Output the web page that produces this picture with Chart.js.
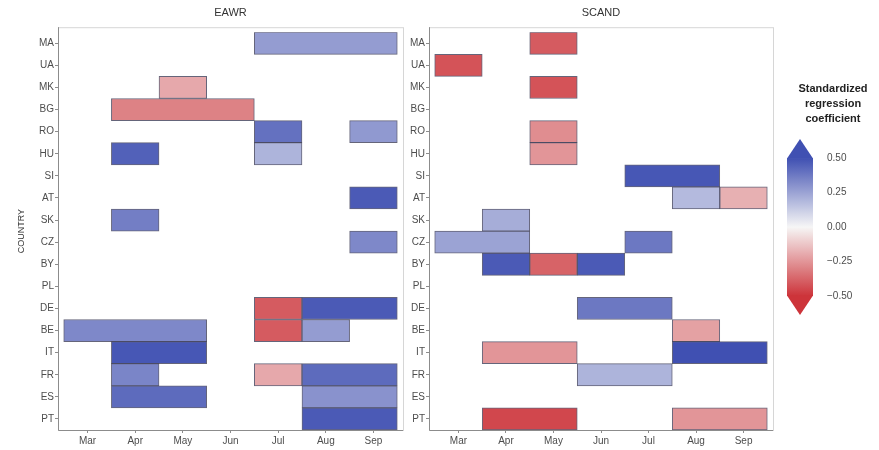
<!DOCTYPE html>
<html>
<head>
<meta charset="utf-8">
<script src="https://cdn.jsdelivr.net/npm/chart.js@4"></script>
<style>
  body { margin: 0; background: #fff; }
  #wrap { position: relative; width: 879px; height: 450px; }
  canvas { position: absolute; top: 0; }
</style>
</head>
<body>
<div id="wrap">
  <canvas id="grafico-eawr" width="406" height="450" style="left:0"></canvas>
  <canvas id="grafico-scand" width="374" height="450" style="left:405px"></canvas>
  <canvas id="grafico-escala" width="101" height="450" style="left:778px"></canvas>
</div>
<script>
// paises (de cima para baixo) e meses
const paises = ['MA', 'UA', 'MK', 'BG', 'RO', 'HU', 'SI', 'AT', 'SK', 'CZ', 'BY', 'PL', 'DE', 'BE', 'IT', 'FR', 'ES', 'PT'];
const meses = ['Mar', 'Apr', 'May', 'Jun', 'Jul', 'Aug', 'Sep'];
const numMeses = [3, 4, 5, 6, 7, 8, 9];
const ticksEscala = [-0.5, -0.25, 0, 0.25, 0.5];

// coeficientes EAWR, um array por mes, na ordem de paises
//             MA    UA    MK     BG    RO    HU    SI    AT    SK    CZ    BY    PL    DE     BE     IT    FR     ES    PT
const eawrMar = [null, null, null, null, null, null, null, null, null, null, null, null, null, 0.33, null, null, null, null];
const eawrApr = [null, null, null, -0.30, null, 0.45, null, null, 0.36, null, null, null, null, 0.33, 0.48, 0.34, 0.42, null];
const eawrMay = [null, null, -0.20, -0.30, null, null, null, null, null, null, null, null, null, 0.33, 0.48, null, 0.42, null];
const eawrJun = [null, null, null, -0.30, null, null, null, null, null, null, null, null, null, null, null, null, null, null];
const eawrJul = [0.27, null, null, null, 0.40, 0.20, null, null, null, null, null, null, -0.40, -0.40, null, -0.20, null, null];
const eawrAug = [0.27, null, null, null, null, null, null, null, null, null, null, null, 0.47, 0.27, null, 0.42, 0.30, 0.47];
const eawrSep = [0.27, null, null, null, 0.28, null, null, 0.47, null, 0.33, null, null, 0.47, null, null, 0.42, 0.30, 0.47];

// coeficientes SCAND
const scandMar = [null, -0.42, null, null, null, null, null, null, null, 0.25, null, null, null, null, null, null, null, null];
const scandApr = [null, null, null, null, null, null, null, null, 0.22, 0.25, 0.47, null, null, null, -0.25, null, null, -0.45];
const scandMay = [-0.40, null, -0.42, null, -0.27, -0.25, null, null, null, null, -0.38, null, null, null, -0.25, null, null, -0.45];
const scandJun = [null, null, null, null, null, null, null, null, null, null, 0.47, null, 0.38, null, null, 0.20, null, null];
const scandJul = [null, null, null, null, null, null, 0.48, null, null, 0.38, null, null, 0.38, null, null, 0.20, null, null];
const scandAug = [null, null, null, null, null, null, 0.48, 0.18, null, null, null, null, null, -0.22, 0.50, null, null, -0.25];
const scandSep = [null, null, null, null, null, null, null, -0.18, null, null, null, null, null, null, 0.50, null, null, -0.25];

Chart.defaults.font.family = "'Liberation Sans', Arial, sans-serif";
Chart.defaults.color = '#4d4d4d';

// cor divergente: vermelho (-0.5) -> branco (0) -> azul (0.5)
function corCoef(v) {
  let t = Math.max(-1, Math.min(1, v / 0.5));
  let branco = [246, 246, 246];
  let fim = t >= 0 ? [64, 80, 178] : [205, 52, 58];
  let a = Math.abs(t);
  let c = branco.map((b, i) => Math.round(b + (fim[i] - b) * a));
  return 'rgb(' + c.join(',') + ')';
}

// um dataset por mes: barra flutuante [mes-0.5, mes+0.5]
// meses seguidos com o mesmo valor viram uma barra so (comeca no primeiro mes)
function montaDatasets(colunas) {
  return colunas.map(function (valores, i) {
    let m = numMeses[i];
    return {
      data: valores.map(function (v, k) {
        if (v === null) return null;
        if (i > 0 && colunas[i - 1][k] === v) return null;
        let j = i;
        while (j < colunas.length - 1 && colunas[j + 1][k] === v) j++;
        return [m - 0.5, numMeses[j] + 0.5];
      }),
      backgroundColor: valores.map(v => (v === null ? 'transparent' : corCoef(v))),
      borderColor: 'rgba(35,35,65,0.7)',
      borderWidth: 1,
      borderSkipped: false,
      grouped: false,
      barPercentage: 1,
      categoryPercentage: 1
    };
  });
}

// moldura do painel: topo/direita claros, eixo esquerdo/baixo mais escuros
const moldura = {
  id: 'moldura',
  afterDraw(chart) {
    let a = chart.chartArea;
    let ctx = chart.ctx;
    let topo = a.top - 5;
    ctx.save();
    ctx.lineWidth = 1;
    ctx.strokeStyle = '#d6d6d6';
    ctx.strokeRect(a.left + 0.5, topo + 0.5, a.right - a.left, a.bottom - topo);
    ctx.strokeStyle = '#8c8c8c';
    ctx.beginPath();
    ctx.moveTo(a.left + 0.5, topo);
    ctx.lineTo(a.left + 0.5, a.bottom + 0.5);
    ctx.lineTo(a.right, a.bottom + 0.5);
    ctx.stroke();
    ctx.restore();
  }
};

function createPainel(IdElement, titulo, colunas, larguraEixoY, comTituloY, padDireita) {
  let ctx = document.getElementById(IdElement).getContext('2d');
  return new Chart(ctx, {
    type: 'bar',
    data: { labels: paises, datasets: montaDatasets(colunas) },
    options: {
      indexAxis: 'y',
      responsive: false,
      animation: false,
      layout: { padding: { left: 0, right: padDireita, top: 0, bottom: 0 } },
      plugins: {
        legend: { display: false },
        tooltip: { enabled: false },
        title: {
          display: true,
          text: titulo,
          fullSize: false,
          color: '#333',
          font: { size: 11, weight: 'normal' },
          padding: { top: 6, bottom: 13 }
        }
      },
      scales: {
        x: {
          type: 'linear',
          min: 2.38,
          max: 9.62,
          afterBuildTicks: function (scale) {
            scale.ticks = numMeses.map(v => ({ value: v }));
          },
          afterFit: function (scale) { scale.height = 20; },
          ticks: {
            autoSkip: false,
            maxRotation: 0,
            padding: 2,
            font: { size: 10 },
            callback: v => meses[v - 3]
          },
          grid: { drawOnChartArea: false, drawTicks: true, tickLength: 3, color: '#8c8c8c' },
          border: { display: false }
        },
        y: {
          type: 'category',
          offset: true,
          afterFit: function (scale) { scale.width = larguraEixoY; },
          ticks: { autoSkip: false, padding: 1, font: { size: 10 } },
          grid: { offset: false, drawOnChartArea: false, drawTicks: true, tickLength: 3, color: '#8c8c8c' },
          border: { display: false },
          title: {
            display: comTituloY,
            text: 'COUNTRY',
            color: '#333',
            font: { size: 9 },
            padding: { top: 16, bottom: 0 }
          }
        }
      }
    },
    plugins: [moldura]
  });
}

// barra de cores da legenda com setas nas pontas
const barraCores = {
  id: 'barraCores',
  afterDraw(chart) {
    let a = chart.chartArea;
    let ctx = chart.ctx;
    let escalaY = chart.scales.y;
    let yTopo = escalaY.getPixelForValue(0.5);
    let yBase = escalaY.getPixelForValue(-0.5);
    let meio = (a.left + a.right) / 2;
    let grad = ctx.createLinearGradient(0, yTopo, 0, yBase);
    for (let k = 0; k <= 20; k++) {
      let v = 0.5 - k * 0.05;
      grad.addColorStop(k / 20, corCoef(v));
    }
    ctx.save();
    ctx.fillStyle = grad;
    ctx.fillRect(a.left, yTopo, a.right - a.left, yBase - yTopo);
    ctx.fillStyle = corCoef(0.5);
    ctx.beginPath();
    ctx.moveTo(a.left, yTopo + 0.5);
    ctx.lineTo(a.right, yTopo + 0.5);
    ctx.lineTo(meio, yTopo - 19);
    ctx.closePath();
    ctx.fill();
    ctx.fillStyle = corCoef(-0.5);
    ctx.beginPath();
    ctx.moveTo(a.left, yBase - 0.5);
    ctx.lineTo(a.right, yBase - 0.5);
    ctx.lineTo(meio, yBase + 19);
    ctx.closePath();
    ctx.fill();
    ctx.restore();
  }
};

function createEscala(IdElement) {
  let ctx = document.getElementById(IdElement).getContext('2d');
  return new Chart(ctx, {
    type: 'bar',
    data: { labels: [''], datasets: [] },
    options: {
      responsive: false,
      animation: false,
      layout: { padding: { left: 9, right: 0, top: 0, bottom: 154 } },
      plugins: {
        legend: { display: false },
        tooltip: { enabled: false },
        title: {
          display: true,
          text: ['Standardized', 'regression', 'coefficient'],
          color: '#222',
          font: { size: 11, weight: 'bold', lineHeight: 1.35 },
          padding: { top: 82, bottom: 31.5 }
        }
      },
      scales: {
        x: { display: false },
        y: {
          position: 'right',
          min: -0.5,
          max: 0.5,
          afterBuildTicks: function (scale) {
            scale.ticks = ticksEscala.map(v => ({ value: v }));
          },
          afterFit: function (scale) { scale.width = 66; },
          ticks: {
            padding: 6,
            font: { size: 10 },
            callback: v => v.toFixed(2).replace('-', '\u2212')
          },
          grid: { display: false },
          border: { display: false }
        }
      }
    },
    plugins: [barraCores]
  });
}

window.onload = function () {
  createPainel('grafico-eawr', 'EAWR', [eawrMar, eawrApr, eawrMay, eawrJun, eawrJul, eawrAug, eawrSep], 58, true, 3);
  createPainel('grafico-scand', 'SCAND', [scandMar, scandApr, scandMay, scandJun, scandJul, scandAug, scandSep], 24, false, 6);
  createEscala('grafico-escala');
};
</script>
</body>
</html>
